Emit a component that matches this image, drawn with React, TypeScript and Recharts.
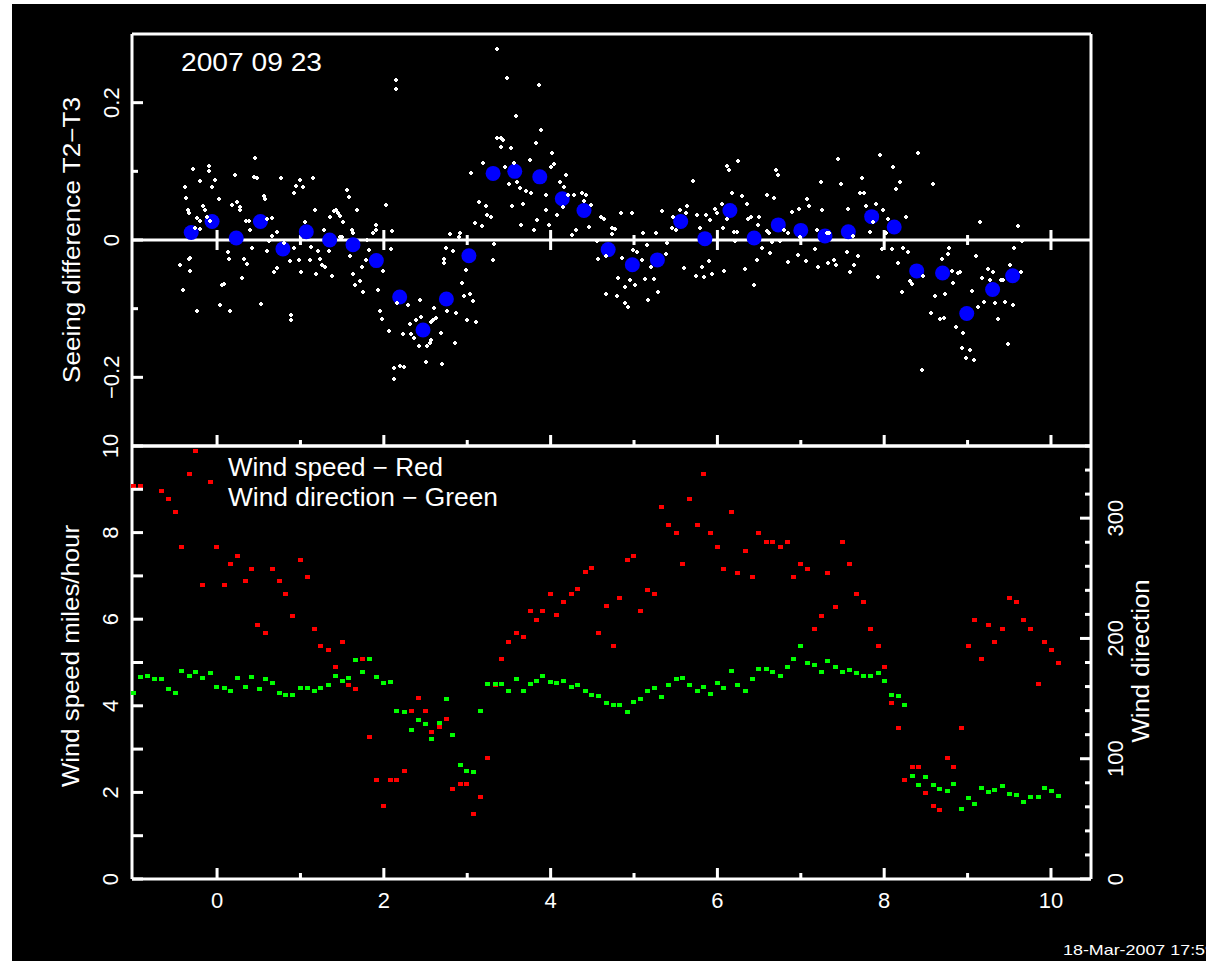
import React from 'react';
import { ScatterChart, Scatter, XAxis, YAxis, ReferenceLine, ReferenceDot } from 'recharts';

// ---------- data ----------
const xTicks = [0, 1, 2, 3, 4, 5, 6, 7, 8, 9, 10];
const seeingTicks = [-0.2, -0.1, 0, 0.1, 0.2];
const speedTicks = [0, 1, 2, 3, 4, 5, 6, 7, 8, 9, 10];
const dirTicks = [0, 20, 40, 60, 80, 100, 120, 140, 160, 180, 200, 220, 240, 260, 280, 300, 320, 340, 360];

// binned mean seeing difference (blue)
const seeingMeans: [number, number][] = [
  [-0.31, 0.011], [-0.06, 0.027], [0.23, 0.003], [0.52, 0.027], [0.79, -0.013], [1.07, 0.012],
  [1.35, 0.0], [1.63, -0.007], [1.91, -0.03], [2.19, -0.083], [2.47, -0.131], [2.75, -0.086],
  [3.02, -0.023], [3.31, 0.097], [3.57, 0.1], [3.87, 0.092], [4.14, 0.06], [4.4, 0.043],
  [4.69, -0.014], [4.98, -0.036], [5.28, -0.029], [5.56, 0.027], [5.85, 0.002], [6.15, 0.043],
  [6.44, 0.003], [6.73, 0.022], [7.0, 0.014], [7.29, 0.006], [7.57, 0.012], [7.85, 0.034],
  [8.12, 0.019], [8.39, -0.045], [8.7, -0.048], [8.99, -0.107], [9.3, -0.072], [9.54, -0.052],
];

// individual seeing difference samples (white)
const seeingSamples: [number, number][] = [
  [3.36, 0.278], [2.14, 0.233], [2.14, 0.22], [3.48, 0.236], [3.86, 0.225], [3.58, 0.18], [3.89, 0.16],
  [3.36, 0.149], [3.4, 0.149], [3.43, 0.146], [3.41, 0.136], [3.52, 0.134], [3.82, 0.141], [4.02, 0.127],
  [3.75, 0.117], [3.19, 0.112], [3.45, 0.107], [3.56, 0.112], [4.04, 0.11], [4.0, 0.107], [4.19, 0.095],
  [3.04, 0.098], [3.5, 0.081], [3.6, 0.084], [3.63, 0.076], [3.71, 0.071], [3.76, 0.069], [4.11, 0.084],
  [4.16, 0.077], [4.21, 0.066], [4.28, 0.066], [4.38, 0.068], [4.43, 0.065], [4.4, 0.057], [4.48, 0.051],
  [3.94, 0.066], [3.54, 0.05], [3.67, 0.053], [3.95, 0.044], [3.84, 0.029], [3.64, 0.022], [3.8, 0.014],
  [3.98, 0.022], [4.08, 0.037], [4.15, 0.048], [4.3, 0.015], [4.26, 0.008], [4.46, 0.019], [3.14, 0.055],
  [3.22, 0.049], [3.24, 0.036], [3.28, 0.033], [3.09, 0.025], [3.18, 0.02], [2.79, 0.009], [2.91, 0.01],
  [2.9, 0.004], [3.32, -0.006], [3.31, -0.029], [2.75, -0.012], [2.83, -0.016], [2.72, -0.028], [2.72, -0.034],
  [2.98, -0.044], [2.94, -0.063], [2.96, -0.082], [3.03, -0.078], [3.07, -0.089], [3.0, -0.116], [3.11, -0.12],
  [2.87, -0.107], [2.76, -0.104], [2.85, -0.15], [2.7, -0.181], [2.5, -0.177], [2.12, -0.187], [2.19, -0.184],
  [2.24, -0.185], [2.12, -0.202], [2.42, -0.155], [2.52, -0.155], [2.55, -0.15], [2.57, -0.146], [2.68, -0.136],
  [2.6, -0.099], [2.63, -0.114], [2.59, -0.117], [2.57, -0.12], [2.45, -0.112], [2.38, -0.116], [2.31, -0.122],
  [2.32, -0.137], [2.36, -0.143], [2.23, -0.137], [2.06, -0.133], [1.98, -0.115], [1.95, -0.104], [2.29, -0.094],
  [2.16, -0.092], [2.43, -0.088], [1.93, -0.073], [1.99, -0.045], [2.08, -0.013], [2.03, 0.051], [2.1, 0.013],
  [1.9, 0.022], [1.91, 0.014], [1.87, 0.01], [1.8, 0.0], [1.82, -0.015], [1.68, 0.044], [1.58, 0.063],
  [1.56, 0.073], [1.62, 0.015], [1.48, 0.005], [1.51, 0.026], [1.48, 0.035], [1.4, 0.042], [1.43, 0.044],
  [1.35, 0.033], [1.45, 0.039], [1.28, 0.015], [1.17, 0.044], [1.05, 0.026], [1.03, 0.077], [0.95, 0.078],
  [0.92, 0.069], [0.99, 0.087], [1.15, 0.091], [0.77, 0.09], [0.56, 0.064], [0.58, 0.06], [0.46, 0.12],
  [0.44, 0.092], [0.48, 0.09], [0.22, 0.094], [-0.02, 0.088], [-0.06, 0.077], [-0.1, 0.108], [-0.1, 0.1],
  [-0.2, 0.086], [-0.29, 0.103], [-0.39, 0.077], [-0.37, 0.061], [-0.35, 0.044], [-0.34, 0.039], [-0.17, 0.05],
  [-0.15, 0.044], [0.02, 0.059], [0.18, 0.051], [0.24, 0.056], [0.28, 0.048], [0.28, 0.044], [0.35, 0.027],
  [0.38, 0.028], [0.4, 0.015], [0.6, 0.031], [0.66, 0.032], [0.72, 0.011], [0.66, 0.006], [0.62, -0.002],
  [0.6, -0.016], [0.72, -0.041], [0.68, -0.046], [0.8, -0.005], [0.92, -0.011], [0.87, -0.03], [0.98, -0.029],
  [1.11, -0.029], [1.01, -0.047], [1.13, -0.01], [1.21, -0.016], [1.24, -0.027], [1.26, -0.037], [1.3, -0.04],
  [1.19, -0.049], [1.38, -0.052], [1.34, -0.016], [1.5, 0.004], [1.6, -0.023], [1.71, -0.059], [1.74, -0.04],
  [1.75, -0.076], [1.65, -0.066], [1.63, -0.049], [1.79, -0.029], [1.63, 0.01], [0.14, -0.027], [0.13, -0.017],
  [0.08, -0.064], [0.06, -0.066], [-0.32, -0.026], [-0.34, -0.028], [-0.44, -0.036], [-0.33, -0.045], [-0.41, -0.073],
  [-0.24, -0.104], [0.04, -0.095], [0.16, -0.104], [0.3, -0.056], [0.36, -0.035], [0.32, -0.028], [0.42, -0.012],
  [0.53, -0.093], [0.89, -0.109], [0.89, -0.117], [-0.24, 0.032], [-0.21, 0.028], [-0.12, 0.033], [-0.09, 0.028],
  [-0.27, 0.018], [-0.2, 0.016],
  [4.6, 0.034], [4.64, 0.031], [4.73, 0.018], [4.77, 0.016], [4.74, 0.009], [4.84, 0.039], [4.97, 0.039],
  [4.56, -0.002], [4.57, -0.028], [4.67, -0.024], [4.81, -0.055], [4.86, -0.026], [4.95, -0.058], [5.01, -0.066],
  [4.89, -0.069], [4.67, -0.079], [4.79, -0.082], [4.89, -0.092], [4.93, -0.097], [5.13, -0.057], [5.24, -0.057],
  [5.17, -0.087], [5.29, -0.076], [5.2, -0.039], [5.09, -0.029], [5.11, 0.01], [5.04, -0.018], [4.99, -0.015],
  [5.26, 0.01], [5.33, 0.042], [5.16, -0.008], [5.4, -0.005], [5.38, -0.02], [5.46, 0.018], [5.5, 0.015],
  [5.47, 0.033], [5.55, 0.044], [5.62, 0.04], [5.64, 0.05], [5.71, 0.086], [5.79, 0.018], [5.76, 0.037],
  [5.86, 0.037], [5.91, 0.029], [5.97, 0.045], [6.0, 0.039], [6.05, 0.052], [6.07, 0.018], [6.11, 0.031],
  [6.12, 0.108], [6.14, 0.102], [6.25, 0.115], [6.17, 0.069], [6.3, 0.064], [6.36, 0.053], [6.2, 0.011],
  [6.24, 0.011], [6.21, -0.002], [6.37, 0.031], [6.4, 0.033], [6.5, 0.034], [6.49, 0.022], [6.54, -0.011],
  [6.63, -0.019], [6.47, -0.029], [6.44, -0.066], [6.33, -0.042], [6.08, -0.045], [5.94, -0.049], [5.84, -0.054],
  [5.74, -0.053], [5.81, -0.04], [5.9, -0.031], [5.6, -0.041], [6.59, 0.066], [6.68, 0.061], [6.7, 0.102],
  [6.73, 0.095], [6.59, 0.013], [6.62, 0.01], [6.66, -0.003], [6.75, -0.002], [6.8, 0.015], [6.85, 0.01],
  [6.89, 0.041], [6.98, 0.045], [6.99, 0.005], [6.97, -0.022], [6.85, -0.032], [7.06, -0.031], [7.1, 0.05],
  [7.07, 0.059], [7.17, -0.013], [7.21, -0.039], [7.24, 0.085], [7.26, 0.044], [7.19, 0.015], [7.31, 0.01],
  [7.34, 0.01], [7.33, -0.034], [7.42, -0.036], [7.4, -0.029], [7.48, 0.081], [7.45, 0.118], [7.55, -0.018],
  [7.59, -0.046], [7.64, -0.036], [7.69, -0.023], [7.63, 0.006], [7.57, 0.045], [7.71, 0.068], [7.76, 0.068],
  [7.73, 0.09], [7.78, 0.05], [7.9, 0.053], [7.83, 0.011], [7.87, 0.026], [7.92, -0.054], [7.95, 0.124],
  [7.99, 0.044], [8.04, 0.031], [8.11, 0.107], [8.14, 0.075], [8.19, 0.085], [8.26, 0.033], [8.02, 0.01],
  [7.97, -0.013], [8.09, -0.013], [8.23, -0.012], [8.28, -0.018], [8.16, -0.034], [8.4, 0.126], [8.58, 0.082],
  [8.31, -0.059], [8.33, -0.064], [8.21, -0.076], [8.47, -0.053], [8.45, -0.19], [8.56, -0.106], [8.61, -0.081],
  [8.67, -0.115], [8.72, -0.114], [8.73, -0.078], [8.69, -0.028], [8.78, -0.012], [8.76, -0.02], [8.81, -0.045],
  [8.83, -0.062], [8.89, -0.048], [8.91, -0.046], [8.86, -0.126], [8.95, -0.136], [8.93, -0.158], [9.03, -0.16],
  [8.98, -0.172], [9.08, -0.175], [9.05, -0.074], [9.1, -0.024], [9.15, 0.026], [9.12, -0.097], [9.2, -0.091],
  [9.17, -0.056], [9.25, -0.042], [9.3, -0.047], [9.27, -0.058], [9.33, -0.092], [9.37, -0.115], [9.4, -0.058],
  [9.45, -0.091], [9.49, -0.151], [9.51, -0.036], [9.55, -0.094], [9.56, -0.011], [9.61, 0.021], [9.65, -0.002],
  [9.64, -0.047], [9.42, -0.058],
];

// wind speed, miles/hour (red)
const windSpeed: [number, number][] = [
  [-1.01, 9.07], [-0.92, 9.07], [-0.67, 8.97], [-0.59, 8.78], [-0.51, 8.48], [-0.43, 7.67], [-0.34, 9.36],
  [-0.26, 9.89], [-0.18, 6.78], [-0.09, 9.17], [-0.01, 7.67], [0.08, 6.78], [0.16, 7.27], [0.24, 7.47],
  [0.33, 6.89], [0.41, 7.17], [0.48, 5.87], [0.57, 5.67], [0.66, 7.17], [0.74, 6.89], [0.82, 6.58],
  [0.9, 6.08], [0.99, 7.37], [1.08, 6.97], [1.16, 5.77], [1.24, 5.38], [1.33, 5.28], [1.41, 4.89],
  [1.5, 5.48], [1.57, 4.49], [1.66, 4.38], [1.74, 5.09], [1.82, 3.29], [1.9, 2.28], [1.99, 1.69],
  [2.07, 2.28], [2.15, 2.28], [2.24, 2.49], [2.33, 3.89], [2.41, 4.18], [2.49, 3.89], [2.57, 3.39],
  [2.66, 3.5], [2.74, 3.69], [2.82, 2.09], [2.91, 2.19], [2.99, 2.19], [3.07, 1.5], [3.15, 1.89],
  [3.24, 2.79], [3.33, 4.49], [3.41, 5.09], [3.49, 5.48], [3.58, 5.67], [3.67, 5.58], [3.75, 6.18],
  [3.82, 5.99], [3.9, 6.18], [3.99, 6.59], [4.07, 6.09], [4.15, 6.39], [4.24, 6.59], [4.32, 6.69],
  [4.41, 7.08], [4.49, 7.18], [4.57, 5.67], [4.66, 6.3], [4.75, 5.38], [4.82, 6.49], [4.91, 7.37],
  [4.99, 7.47], [5.07, 6.18], [5.16, 6.68], [5.24, 6.58], [5.32, 8.58], [5.41, 8.18], [5.5, 7.98],
  [5.58, 7.27], [5.66, 8.78], [5.75, 8.18], [5.83, 9.36], [5.91, 7.98], [5.99, 7.67], [6.07, 7.17],
  [6.16, 8.48], [6.24, 7.07], [6.33, 7.57], [6.41, 6.97], [6.49, 7.98], [6.58, 7.78], [6.66, 7.78],
  [6.75, 7.67], [6.83, 7.78], [6.91, 6.97], [6.99, 7.27], [7.07, 7.17], [7.16, 5.77], [7.24, 6.08],
  [7.32, 7.07], [7.41, 6.29], [7.49, 7.78], [7.58, 7.27], [7.66, 6.58], [7.75, 6.39], [7.83, 5.77],
  [7.92, 5.38], [8.0, 4.89], [8.08, 4.07], [8.16, 3.49], [8.24, 2.28], [8.33, 2.59], [8.41, 2.59],
  [8.49, 1.99], [8.58, 1.69], [8.66, 1.59], [8.75, 2.79], [8.83, 2.59], [8.92, 3.49], [9.0, 5.38],
  [9.08, 5.98], [9.16, 5.09], [9.24, 5.87], [9.32, 5.48], [9.41, 5.77], [9.5, 6.49], [9.58, 6.39],
  [9.66, 5.98], [9.75, 5.77], [9.84, 4.5], [9.92, 5.48], [10.0, 5.28], [10.09, 4.99],
];

// wind direction, degrees (green)
const windDir: [number, number][] = [
  [-1.01, 155], [-0.92, 168], [-0.84, 169], [-0.76, 166], [-0.67, 166], [-0.59, 158], [-0.51, 155],
  [-0.43, 173], [-0.34, 169], [-0.26, 172], [-0.18, 167], [-0.09, 171], [-0.01, 160], [0.08, 159],
  [0.16, 156], [0.24, 167], [0.33, 160], [0.41, 168], [0.5, 158], [0.58, 166], [0.66, 163], [0.74, 155],
  [0.82, 153], [0.9, 153], [0.99, 159], [1.08, 159], [1.16, 156], [1.24, 159], [1.33, 161], [1.41, 169],
  [1.5, 165], [1.57, 167], [1.66, 182], [1.74, 172], [1.82, 183], [1.9, 168], [1.99, 163], [2.07, 164],
  [2.15, 140], [2.24, 139], [2.33, 124], [2.41, 132], [2.49, 129], [2.57, 116], [2.66, 130], [2.74, 150],
  [2.82, 120], [2.91, 95], [2.99, 90], [3.07, 89], [3.15, 140], [3.24, 162], [3.33, 162], [3.41, 162],
  [3.49, 156], [3.58, 166], [3.67, 156], [3.75, 162], [3.82, 165], [3.9, 169], [3.99, 164], [4.07, 163],
  [4.15, 165], [4.24, 160], [4.32, 161], [4.41, 156], [4.49, 153], [4.57, 152], [4.66, 146], [4.75, 145],
  [4.82, 145], [4.91, 139], [4.99, 147], [5.07, 150], [5.16, 156], [5.24, 159], [5.32, 151], [5.41, 161],
  [5.5, 166], [5.58, 167], [5.66, 161], [5.75, 156], [5.83, 160], [5.91, 154], [5.99, 163], [6.07, 159],
  [6.16, 173], [6.24, 161], [6.33, 156], [6.41, 166], [6.49, 175], [6.58, 175], [6.66, 172], [6.75, 169],
  [6.83, 176], [6.91, 183], [6.99, 194], [7.07, 180], [7.16, 178], [7.24, 172], [7.32, 181], [7.41, 176],
  [7.49, 172], [7.58, 174], [7.66, 171], [7.75, 169], [7.83, 169], [7.92, 171], [8.0, 165], [8.08, 153],
  [8.16, 152], [8.24, 145], [8.33, 86], [8.41, 78], [8.49, 85], [8.58, 78], [8.66, 75], [8.75, 73],
  [8.83, 79], [8.92, 58], [9.0, 67], [9.08, 62], [9.16, 76], [9.24, 72], [9.32, 74], [9.41, 77],
  [9.5, 71], [9.58, 70], [9.66, 64], [9.75, 68], [9.84, 68], [9.92, 76], [10.0, 73], [10.09, 69],
];

const dateLabel = '2007 09 23';
const stampLabel = '18-Mar-2007 17:59';

// ---------- layout ----------
const W = 1194;
const H = 957;
const X_DOMAIN: [number, number] = [-1.02, 10.48];
const FONT = '"Liberation Sans", Arial, sans-serif';
const WHITE = '#ffffff';
const AX = 1; // space reserved by each axis
const SW = 3; // frame / tick line width
const TICK_FONT = 22;

const toObj = (arr: [number, number][]) => arr.map(([x, y]) => ({ x, y }));

const fmt = (v: number) => (v < 0 ? '\u2212' + String(-v) : String(v));

const RotLabel = ({ x, y, text, size = TICK_FONT, len }: { x: number; y: number; text: string; size?: number; len?: number }) => (
  <text
    transform={`translate(${x},${y}) rotate(-90)`}
    x={0}
    y={0}
    fill={WHITE}
    fontFamily={FONT}
    fontSize={size}
    textAnchor="middle"
    dominantBaseline="central"
    textLength={len}
    lengthAdjust={len ? 'spacingAndGlyphs' : undefined}
  >
    {text}
  </text>
);

const isEven = (v: number) => Math.round(v) % 2 === 0;

const VTick = ({ x, y, len }: { x: number; y: number; len: number }) => (
  <rect x={x - SW / 2} y={len < 0 ? y + len : y} width={SW} height={Math.abs(len)} fill={WHITE} />
);
const HTick = ({ x, y, len }: { x: number; y: number; len: number }) => (
  <rect x={len < 0 ? x + len : x} y={y - SW / 2} width={Math.abs(len)} height={SW} fill={WHITE} />
);

// X axis ticks (inward). dir: -1 = up (bottom axis), 1 = down (top axis)
const makeXTick = (dir: number, withLabels: boolean) => (p: any) => {
  const v = p.payload.value;
  const L = isEven(v) ? 11 : 6;
  return (
    <g>
      <VTick x={p.x} y={p.y} len={dir * L} />
      {withLabels && isEven(v) ? (
        <text x={p.x} y={p.y + 21} fill={WHITE} fontFamily={FONT} fontSize={TICK_FONT} textAnchor="middle" dominantBaseline="central">
          {String(v)}
        </text>
      ) : null}
    </g>
  );
};

// Y axis ticks (inward). dir: 1 = to the right (left axis), -1 = to the left (right axis)
const makeYTick = (dir: number, isMajor: (v: number) => boolean, label: ((v: number) => string | null) | null, labelOffset: number) => (p: any) => {
  const v = p.payload.value;
  const major = isMajor(v);
  const L = major ? 11 : 6;
  const txt = label ? label(v) : null;
  return (
    <g>
      <HTick x={p.x} y={p.y} len={dir * L} />
      {txt !== null ? <RotLabel x={p.x + labelOffset} y={p.y} text={txt} /> : null}
    </g>
  );
};

const seeingMajor = (v: number) => Math.abs(v) > 0.15 || Math.abs(v) < 0.01;
const seeingLabel = (v: number) => (seeingMajor(v) ? fmt(Math.round(v * 10) / 10) : null);
const seeingRightTick = (p: any) => {
  const v = p.payload.value;
  if (Math.abs(v) < 0.01) return <g />;
  return makeYTick(-1, seeingMajor, null, 0)(p);
};

const whiteShape = (p: any) => {
  const cx = Math.round(p.cx);
  const cy = Math.round(p.cy);
  return (
    <g shapeRendering="crispEdges">
      <rect x={cx - 2} y={cy - 1} width={4} height={2} fill={WHITE} />
      <rect x={cx - 1} y={cy - 2} width={2} height={4} fill={WHITE} />
    </g>
  );
};
const blueShape = (p: any) => <circle cx={p.cx} cy={p.cy} r={7.5} fill="#0000ff" />;
const squareShape = (color: string) => (p: any) => (
  <rect x={Math.round(p.cx) - 2} y={Math.round(p.cy) - 2} width={5} height={4} fill={color} shapeRendering="crispEdges" />
);

const zeroTick = (major: boolean) => (p: any) => {
  const L = major ? 10 : 5;
  return <rect x={p.cx - SW / 2} y={p.cy - L} width={SW} height={2 * L} fill={WHITE} />;
};

const axisLine = { stroke: WHITE, strokeWidth: SW };

export default function App() {
  const samples = toObj(seeingSamples);
  const means = toObj(seeingMeans);
  const speed = toObj(windSpeed);
  const dir = toObj(windDir);

  return (
    <div style={{ position: 'absolute', left: 12, top: 4, width: W, height: H, background: '#000', overflow: 'hidden' }}>
      {/* upper panel: seeing difference */}
      <div style={{ position: 'absolute', left: 0, top: 0 }}>
        <ScatterChart width={W} height={H} margin={{ top: 30 - AX, right: 115 - AX, bottom: H - 442 - AX, left: 120 - AX }}>
          <XAxis xAxisId="b" type="number" dataKey="x" domain={X_DOMAIN} ticks={xTicks} interval={0} orientation="bottom"
            height={AX} tickSize={0} tickMargin={0} tickLine={false} axisLine={axisLine} tick={makeXTick(-1, false)} />
          <XAxis xAxisId="t" type="number" dataKey="x" domain={X_DOMAIN} ticks={xTicks} interval={0} orientation="top"
            height={AX} tickSize={0} tickMargin={0} tickLine={false} axisLine={axisLine} tick={makeXTick(1, false)} />
          <YAxis yAxisId="l" type="number" dataKey="y" domain={[-0.3, 0.3]} ticks={seeingTicks} interval={0} orientation="left"
            width={AX} tickSize={0} tickMargin={0} tickLine={false} axisLine={axisLine}
            tick={makeYTick(1, seeingMajor, seeingLabel, -21)} />
          <YAxis yAxisId="r" type="number" dataKey="y" domain={[-0.3, 0.3]} ticks={seeingTicks} interval={0} orientation="right"
            width={AX} tickSize={0} tickMargin={0} tickLine={false} axisLine={axisLine} tick={seeingRightTick} />
          <ReferenceLine xAxisId="b" yAxisId="l" y={0} stroke={WHITE} strokeWidth={SW} />
          {xTicks.map((v) => (
            <ReferenceDot key={v} xAxisId="b" yAxisId="l" x={v} y={0} r={3} shape={zeroTick(isEven(v))} />
          ))}
          <Scatter xAxisId="b" yAxisId="l" data={means} shape={blueShape} isAnimationActive={false} />
          <Scatter xAxisId="b" yAxisId="l" data={samples} shape={whiteShape} isAnimationActive={false} />
        </ScatterChart>
      </div>

      {/* lower panel: wind */}
      <div style={{ position: 'absolute', left: 0, top: 0 }}>
        <ScatterChart width={W} height={H} margin={{ top: 442 - AX, right: 115 - AX, bottom: H - 875 - AX, left: 120 - AX }}>
          <XAxis xAxisId="b" type="number" dataKey="x" domain={X_DOMAIN} ticks={xTicks} interval={0} orientation="bottom"
            height={AX} tickSize={0} tickMargin={0} tickLine={false} axisLine={axisLine} tick={makeXTick(-1, true)} />
          <XAxis xAxisId="t" type="number" dataKey="x" domain={X_DOMAIN} ticks={xTicks} interval={0} orientation="top"
            height={AX} tickSize={0} tickMargin={0} tickLine={false} axisLine={axisLine} tick={makeXTick(1, false)} />
          <YAxis yAxisId="s" type="number" dataKey="y" domain={[0, 10]} ticks={speedTicks} interval={0} orientation="left"
            width={AX} tickSize={0} tickMargin={0} tickLine={false} axisLine={axisLine}
            tick={makeYTick(1, () => true, (v) => (isEven(v) ? String(v) : null), -22)} />
          <YAxis yAxisId="d" type="number" dataKey="y" domain={[0, 360]} ticks={dirTicks} interval={0} orientation="right"
            width={AX} tickSize={0} tickMargin={0} tickLine={false} axisLine={axisLine}
            tick={makeYTick(-1, (v) => v % 100 === 0, (v) => (v % 100 === 0 && v < 360 ? String(v) : null), 24)} />
          <Scatter xAxisId="b" yAxisId="s" data={speed} shape={squareShape('#ff0000')} isAnimationActive={false} />
          <Scatter xAxisId="b" yAxisId="d" data={dir} shape={squareShape('#00ff00')} isAnimationActive={false} />
        </ScatterChart>
      </div>

      {/* titles and annotations */}
      <svg width={W} height={H} style={{ position: 'absolute', left: 0, top: 0, pointerEvents: 'none' }}>
        <text x={239.5} y={57.5} fill={WHITE} fontFamily={FONT} fontSize={25} textAnchor="middle" dominantBaseline="central"
          textLength={141} lengthAdjust="spacingAndGlyphs">{dateLabel}</text>
        <RotLabel x={60} y={236} text={'Seeing difference T2\u2212T3'} size={23} len={286} />
        <RotLabel x={59} y={652} text="Wind speed miles/hour" size={23} len={262} />
        <RotLabel x={1129} y={657} text="Wind direction" size={23} len={163} />
        <text x={323.5} y={463} fill={WHITE} fontFamily={FONT} fontSize={25} textAnchor="middle" dominantBaseline="central"
          textLength={215} lengthAdjust="spacingAndGlyphs">{'Wind speed \u2212 Red'}</text>
        <text x={351} y={492.5} fill={WHITE} fontFamily={FONT} fontSize={25} textAnchor="middle" dominantBaseline="central"
          textLength={270} lengthAdjust="spacingAndGlyphs">{'Wind direction \u2212 Green'}</text>
        <text x={1051} y={945} fill={WHITE} fontFamily={FONT} fontSize={15} textAnchor="start" dominantBaseline="central"
          textLength={152} lengthAdjust="spacingAndGlyphs">{stampLabel}</text>
      </svg>
    </div>
  );
}
